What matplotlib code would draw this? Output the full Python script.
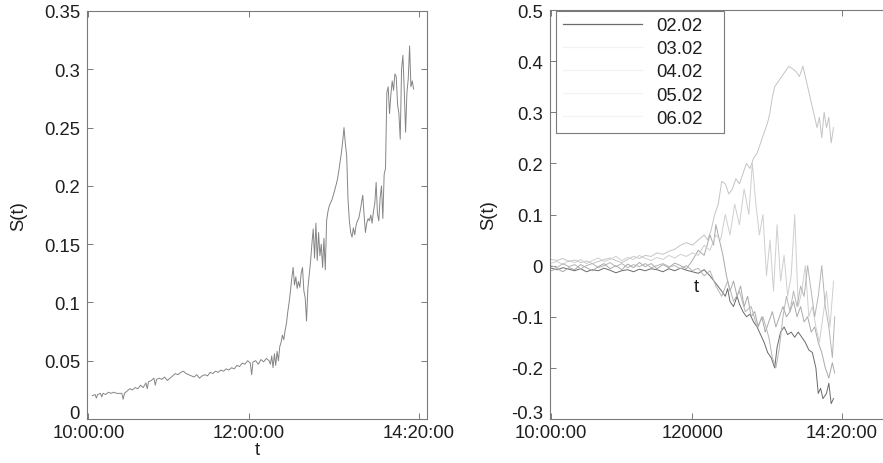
import matplotlib
matplotlib.use("Agg")
import matplotlib.pyplot as plt
import numpy as np
from matplotlib.ticker import FormatStrFormatter
from matplotlib.lines import Line2D
from matplotlib.transforms import ScaledTranslation

plt.rcParams['font.family'] = ['Liberation Sans', 'DejaVu Sans']

# ---------------- data ----------------
# x in sample units: 0 -> 10:00:00, 120 -> 12:00:00, 247 -> 14:20:00
tick_pos = [0, 120, 247]
left_tick_labels = ['10:00:00', '12:00:00', '14:20:00']
right_tick_labels = ['10:00:00', '120000', '14:20:00']

# (t, S) pairs of the left panel
left_points = [
    (3, 0.020), (5, 0.021), (6, 0.018), (7, 0.021), (9, 0.022), (10, 0.019), (11, 0.022), (13, 0.021),
    (15, 0.023), (17, 0.022), (19, 0.023), (21, 0.022), (25, 0.022), (26, 0.017), (27, 0.022), (29, 0.024),
    (31, 0.026), (33, 0.025), (35, 0.027), (37, 0.026), (39, 0.029), (41, 0.027), (43, 0.031), (44, 0.026),
    (45, 0.032), (47, 0.033), (49, 0.035), (50, 0.029), (51, 0.034), (53, 0.035), (55, 0.034), (57, 0.036),
    (59, 0.033), (61, 0.035), (63, 0.037), (65, 0.039), (67, 0.038), (69, 0.040), (71, 0.041), (73, 0.039),
    (75, 0.038), (77, 0.037), (79, 0.036), (81, 0.038), (83, 0.035), (85, 0.037), (87, 0.038), (89, 0.037),
    (91, 0.040), (93, 0.039), (95, 0.041), (97, 0.040), (99, 0.042), (101, 0.041), (103, 0.043), (105, 0.042),
    (107, 0.044), (109, 0.043), (111, 0.046), (113, 0.045), (115, 0.048), (117, 0.047), (119, 0.050),
    (121, 0.048), (122, 0.038), (123, 0.049), (125, 0.050), (127, 0.047), (129, 0.051), (131, 0.049),
    (133, 0.052), (135, 0.050), (136, 0.047), (137, 0.054), (138, 0.044), (139, 0.056), (140, 0.046),
    (141, 0.058), (142, 0.050), (143, 0.062), (144, 0.066), (145, 0.072), (146, 0.068), (147, 0.076),
    (148, 0.082), (149, 0.092), (150, 0.100), (151, 0.110), (152, 0.121), (153, 0.130), (154, 0.115),
    (155, 0.122), (156, 0.112), (157, 0.118), (158, 0.113), (159, 0.125), (160, 0.130), (161, 0.110),
    (162, 0.104), (163, 0.084), (164, 0.112), (165, 0.124), (166, 0.135), (167, 0.150), (168, 0.163),
    (169, 0.138), (170, 0.168), (171, 0.136), (172, 0.160), (173, 0.140), (174, 0.150), (175, 0.130),
    (176, 0.155), (177, 0.128), (178, 0.170), (179, 0.178), (180, 0.183), (182, 0.188), (184, 0.196),
    (186, 0.205), (187, 0.212), (188, 0.220), (189, 0.228), (190, 0.238), (191, 0.250), (192, 0.236),
    (193, 0.226), (194, 0.188), (195, 0.170), (196, 0.160), (197, 0.156), (198, 0.164), (199, 0.158),
    (200, 0.166), (201, 0.170), (202, 0.172), (203, 0.178), (204, 0.185), (205, 0.192), (206, 0.175),
    (207, 0.160), (208, 0.168), (209, 0.172), (210, 0.170), (211, 0.175), (212, 0.168), (213, 0.178),
    (214, 0.185), (215, 0.203), (216, 0.176), (217, 0.170), (218, 0.190), (219, 0.200), (220, 0.172),
    (221, 0.210), (222, 0.215), (223, 0.280), (224, 0.285), (225, 0.262), (226, 0.278), (227, 0.290),
    (228, 0.282), (229, 0.296), (230, 0.294), (231, 0.270), (232, 0.262), (233, 0.240), (234, 0.300),
    (235, 0.312), (236, 0.282), (237, 0.246), (238, 0.280), (239, 0.292), (240, 0.320), (241, 0.285),
    (242, 0.290), (243, 0.283),
]

labels = ['02.02', '03.02', '04.02', '05.02', '06.02']

pts_0202 = [
    (0, -0.005), (5, -0.008), (10, -0.004), (15, -0.007), (20, -0.01), (25, -0.006), (30, -0.012), (35, -0.008),
    (40, -0.01), (45, -0.005), (50, -0.009), (55, -0.014), (60, -0.01), (65, -0.008), (70, -0.012), (75, -0.007),
    (80, -0.01), (85, -0.006), (90, -0.008), (95, -0.012), (100, -0.006), (105, -0.01), (110, -0.005),
    (115, -0.009), (120, -0.012), (125, -0.015), (130, -0.008), (135, -0.02), (140, -0.035), (145, -0.05),
    (148, -0.06), (150, -0.045), (152, -0.07), (155, -0.08), (158, -0.06), (160, -0.075), (163, -0.09),
    (166, -0.1), (169, -0.095), (172, -0.11), (175, -0.12), (178, -0.135), (181, -0.15), (184, -0.17),
    (187, -0.18), (190, -0.2), (192, -0.16), (195, -0.13), (198, -0.12), (201, -0.135), (204, -0.13),
    (207, -0.14), (210, -0.13), (213, -0.14), (216, -0.15), (219, -0.165), (222, -0.17), (225, -0.2),
    (227, -0.25), (229, -0.24), (231, -0.26), (234, -0.25), (236, -0.23), (238, -0.27), (240, -0.26),
]
pts_0302 = [
    (0, 0.012), (5, 0.01), (10, 0.014), (15, 0.008), (20, 0.011), (25, 0.006), (30, 0.009), (35, 0.004),
    (40, 0.008), (45, 0.012), (50, 0.015), (55, 0.01), (60, 0.006), (65, 0.012), (70, 0.018), (75, 0.014),
    (80, 0.02), (85, 0.018), (90, 0.025), (95, 0.022), (100, 0.028), (105, 0.032), (110, 0.04), (115, 0.045),
    (120, 0.04), (125, 0.05), (130, 0.06), (133, 0.05), (136, 0.07), (139, 0.1), (142, 0.12), (145, 0.165),
    (148, 0.16), (151, 0.14), (154, 0.15), (157, 0.17), (160, 0.16), (163, 0.18), (166, 0.2), (169, 0.19),
    (172, 0.21), (175, 0.22), (178, 0.24), (181, 0.26), (184, 0.28), (186, 0.3), (188, 0.33), (190, 0.35),
    (193, 0.36), (196, 0.37), (199, 0.38), (202, 0.39), (205, 0.385), (208, 0.38), (211, 0.37), (214, 0.39),
    (217, 0.36), (220, 0.33), (223, 0.3), (226, 0.27), (228, 0.29), (230, 0.25), (232, 0.3), (234, 0.27),
    (236, 0.29), (238, 0.24), (240, 0.27),
]
pts_0402 = [
    (0, -0.01), (5, -0.006), (10, -0.012), (15, -0.004), (20, -0.008), (25, 0.002), (30, -0.004), (35, -0.01),
    (40, -0.002), (45, 0.004), (50, -0.006), (55, 0.0), (60, -0.008), (65, 0.003), (70, -0.004), (75, 0.006),
    (80, -0.002), (85, 0.004), (90, -0.006), (95, 0.002), (100, -0.004), (105, 0.005), (110, 0.0),
    (115, -0.006), (120, 0.01), (125, 0.03), (130, 0.02), (135, 0.06), (138, 0.04), (140, 0.08), (143, 0.05),
    (146, 0.02), (149, -0.02), (152, -0.05), (155, -0.03), (158, -0.06), (161, -0.04), (164, -0.08),
    (167, -0.06), (170, -0.1), (173, -0.09), (176, -0.12), (179, -0.1), (182, -0.13), (185, -0.11),
    (188, -0.09), (191, -0.12), (194, -0.1), (197, -0.08), (200, -0.1), (203, -0.09), (206, -0.07),
    (209, -0.1), (212, -0.08), (215, -0.11), (218, -0.1), (221, -0.13), (224, -0.12), (227, -0.15),
    (230, -0.17), (233, -0.2), (236, -0.22), (239, -0.19), (241, -0.21),
]
pts_0502 = [
    (0, 0.005), (5, 0.008), (10, 0.002), (15, 0.01), (20, 0.006), (25, 0.012), (30, 0.004), (35, 0.01),
    (40, 0.015), (45, 0.008), (50, 0.012), (55, 0.018), (60, 0.01), (65, 0.016), (70, 0.012), (75, 0.02),
    (80, 0.014), (85, 0.01), (90, 0.016), (95, 0.012), (100, 0.02), (105, 0.015), (110, 0.022), (115, 0.018),
    (120, 0.025), (125, 0.02), (130, 0.04), (135, 0.03), (140, 0.06), (144, 0.05), (148, 0.1), (152, 0.06),
    (156, 0.12), (160, 0.08), (164, 0.15), (168, 0.1), (171, 0.2), (174, 0.12), (177, 0.06), (180, 0.1),
    (183, -0.02), (186, 0.05), (189, -0.05), (192, 0.08), (195, -0.03), (198, 0.02), (201, -0.06),
    (204, -0.02), (207, 0.1), (210, -0.08), (213, -0.05), (216, 0.0), (219, -0.1), (222, -0.08),
    (225, -0.12), (228, -0.15), (231, -0.1), (234, -0.05), (237, -0.12), (240, -0.03),
]
pts_0602 = [
    (0, 0.0), (5, -0.004), (10, 0.004), (15, -0.002), (20, 0.002), (25, -0.006), (30, 0.0), (35, 0.004),
    (40, -0.004), (45, 0.0), (50, 0.006), (55, -0.002), (60, 0.004), (65, -0.004), (70, 0.002), (75, -0.002),
    (80, 0.004), (85, -0.004), (90, 0.0), (95, 0.004), (100, -0.002), (105, 0.0), (110, -0.006), (115, 0.0),
    (120, -0.01), (125, -0.005), (130, -0.02), (135, -0.01), (140, -0.04), (145, -0.06), (150, -0.03),
    (155, -0.07), (160, -0.05), (165, -0.09), (170, -0.08), (175, -0.12), (180, -0.1), (185, -0.14),
    (188, -0.18), (191, -0.2), (194, -0.16), (197, -0.1), (200, -0.06), (203, -0.09), (206, -0.05),
    (209, -0.08), (212, -0.04), (215, -0.06), (218, 0.0), (221, -0.05), (224, -0.1), (227, -0.06),
    (230, 0.0), (233, -0.08), (236, -0.12), (239, -0.18), (241, -0.1),
]
right_series = [pts_0202, pts_0302, pts_0402, pts_0502, pts_0602]

# ---------------- style ----------------
line_colors = ['#6a6a6a', '#c4c4c4', '#a9a9a9', '#cfcfcf', '#b5b5b5']
legend_colors = ['#6a6a6a', '#f2f2f2', '#f2f2f2', '#f2f2f2', '#f2f2f2']
spine_color = '#7a7a7a'
text_color = '#1e1e1e'
fs = 13.3

fig = plt.figure(figsize=(8.83, 4.64), dpi=100)
fig.patch.set_facecolor('white')

axL = fig.add_axes([87 / 883, 44 / 464, 340 / 883, 408 / 464])
axR = fig.add_axes([550 / 883, 44 / 464, 340 / 883, 409 / 464])


def style(ax):
    for sp in ax.spines.values():
        sp.set_color(spine_color)
        sp.set_linewidth(0.8)
    ax.tick_params(direction='in', top=True, right=True, length=4, width=0.7,
                   colors=spine_color, labelcolor=text_color, labelsize=fs)
    ax.tick_params(axis='x', pad=3.5)
    ax.tick_params(axis='y', pad=5)
    ax.yaxis.set_major_formatter(FormatStrFormatter('%g'))


# left panel
lt, ls = zip(*left_points)
axL.plot(lt, ls, color='#858585', lw=0.7)
axL.set_xlim(-1, 253)
axL.set_ylim(0, 0.35)
axL.set_yticks(np.round(np.arange(0, 0.351, 0.05), 2))
axL.set_xticks(tick_pos)
axL.set_xticklabels(left_tick_labels)
axL.set_xlabel('t', fontsize=fs, color=text_color, labelpad=0)
axL.set_ylabel('S(t)', fontsize=fs, color=text_color, labelpad=12)
style(axL)

# right panel
for pts, c in zip(right_series, line_colors):
    tt, ss = zip(*pts)
    axR.plot(tt, ss, color=c, lw=0.7)
axR.set_xlim(-1, 288)
axR.set_ylim(-0.3, 0.5)
axR.set_yticks(np.round(np.arange(-0.3, 0.501, 0.1), 1))
axR.set_xticks(tick_pos)
axR.set_xticklabels(right_tick_labels)
axR.set_ylabel('S(t)', fontsize=fs, color=text_color, labelpad=10)
axR.text(123, -0.04, 't', fontsize=fs, color=text_color, ha='center', va='center')
style(axR)

# lift the lowest y tick label a little, as in the reference
fig.canvas.draw()
for ax in (axL, axR):
    lab = ax.get_yticklabels()[0]
    lab.set_transform(lab.get_transform() + ScaledTranslation(0, 7 / 100, fig.dpi_scale_trans))

handles = [Line2D([], [], color=c, lw=0.9) for c in legend_colors]
leg_w = 168 / 340
leg_h = 117 / 409
leg = axR.legend(handles, labels, loc='upper left',
                 bbox_to_anchor=(0.018, 0.998 - leg_h, leg_w, leg_h), mode='expand',
                 borderaxespad=0, fontsize=fs, frameon=True, fancybox=False,
                 framealpha=1, edgecolor=spine_color, handlelength=4.3,
                 handletextpad=0.75, labelspacing=0.33, borderpad=0.35)
leg.get_frame().set_linewidth(0.8)
for txt in leg.get_texts():
    txt.set_color(text_color)

fig.savefig('out.png', dpi=100, facecolor='white')
